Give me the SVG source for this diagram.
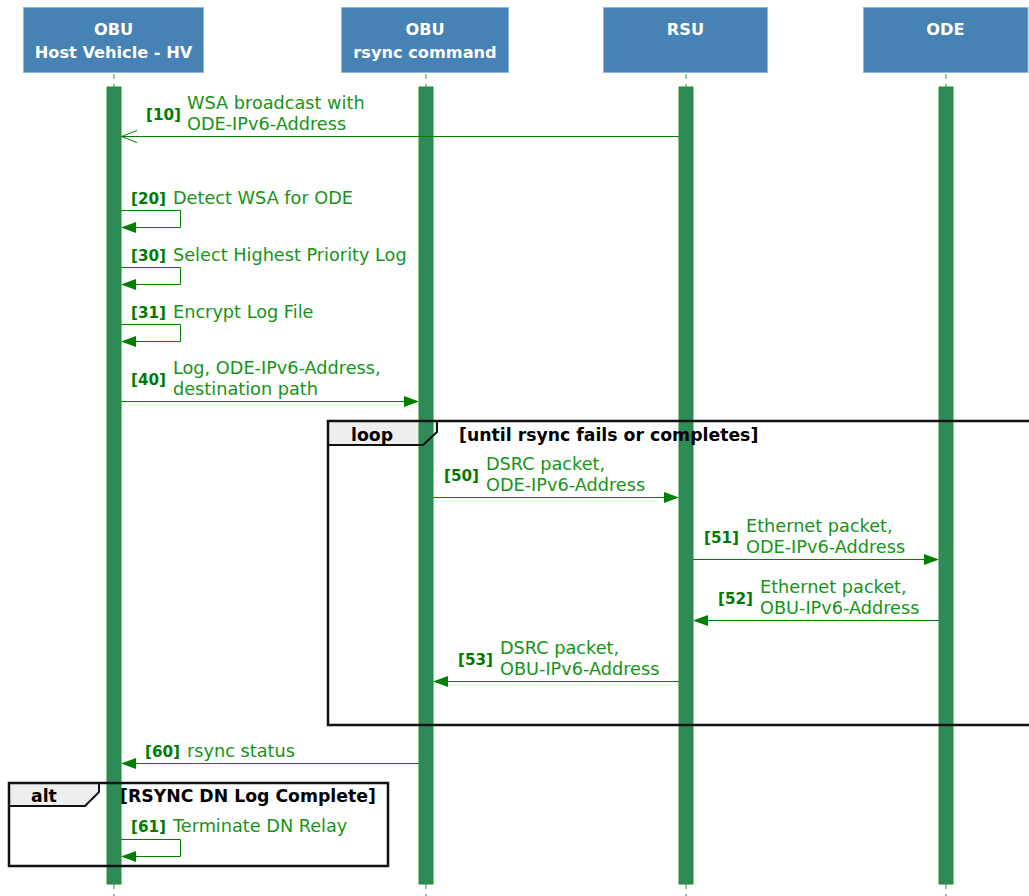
<svg xmlns="http://www.w3.org/2000/svg" width="1029" height="896" viewBox="0 0 1029 896">
  <style>
    .head { fill: #4682B4; stroke: #8ab8e6; stroke-width: 1; }
    .head-text { font-family: "DejaVu Sans", sans-serif; font-weight: bold; font-size: 16.2px; fill: #ffffff; text-anchor: middle; }
    .life { stroke: #2e8b57; stroke-width: 1; stroke-dasharray: 5 5; }
    .bar { fill: #2e8b57; stroke: #1f8f2f; stroke-width: 1; }
    .msg { stroke: #008000; stroke-width: 1; fill: none; }
    .head-fill { fill: #008000; stroke: none; }
    .open-head { stroke: #008000; stroke-width: 1; fill: none; }
    .txt { font-family: "DejaVu Sans", sans-serif; font-size: 17.7px; fill: #169416; }
    .num { font-family: "DejaVu Sans", sans-serif; font-weight: bold; font-size: 15.2px; fill: #007a00; }
    .frame { fill: none; stroke: #111; stroke-width: 2.5; }
    .tab { fill: #eeeeee; }
    .tab-line { fill: none; stroke: #111; stroke-width: 2; }
    .frame-text { font-family: "DejaVu Sans", sans-serif; font-weight: bold; font-size: 17.3px; fill: #000; }
  </style>

  <!-- fragment tab backgrounds -->
  <g id="frame-tabs">
    <path class="tab" d="M328,421 H437 V432 L423,445 H328 Z"/>
    <path class="tab" d="M9,783 H99 V792 L85,806 H9 Z"/>
  </g>

  <!-- participants -->
  <g id="hv">
    <rect class="head" x="23.5" y="7.5" width="180" height="65"/>
    <text class="head-text" x="113.5" y="35">OBU</text>
    <text class="head-text" x="113.5" y="58">Host Vehicle - HV</text>
    <line class="life" x1="114" y1="74" x2="114" y2="896"/>
    <rect class="bar" x="107" y="87" width="14" height="797"/>
  </g>
  <g id="rsync">
    <rect class="head" x="341.5" y="7.5" width="167" height="65"/>
    <text class="head-text" x="425" y="35">OBU</text>
    <text class="head-text" x="425" y="58">rsync command</text>
    <line class="life" x1="426" y1="74" x2="426" y2="896"/>
    <rect class="bar" x="419" y="87" width="14" height="797"/>
  </g>
  <g id="rsu">
    <rect class="head" x="603.5" y="7.5" width="164" height="65"/>
    <text class="head-text" x="685.5" y="35">RSU</text>
    <line class="life" x1="686" y1="74" x2="686" y2="896"/>
    <rect class="bar" x="679" y="87" width="14" height="797"/>
  </g>
  <g id="ode">
    <rect class="head" x="863.5" y="7.5" width="164.5" height="65"/>
    <text class="head-text" x="945.5" y="35">ODE</text>
    <line class="life" x1="946" y1="74" x2="946" y2="896"/>
    <rect class="bar" x="939" y="87" width="14" height="797"/>
  </g>

  <!-- fragments -->
  <g id="loop-frame">
    <rect class="frame" x="328" y="421" width="720" height="304"/>
    <path class="tab-line" d="M437,421 V432 L423,445 H328"/>
    <text class="frame-text" x="351" y="441">loop</text>
    <text class="frame-text" x="459" y="441">[until rsync fails or completes]</text>
  </g>
  <g id="alt-frame">
    <rect class="frame" x="9" y="783" width="379" height="83"/>
    <path class="tab-line" d="M99,783 V792 L85,806 H9"/>
    <text class="frame-text" x="31" y="802">alt</text>
    <text class="frame-text" x="120" y="802">[RSYNC DN Log Complete]</text>
  </g>

  <!-- messages -->
  <g id="connectors">
    <!-- 10 -->
    <line class="msg" x1="679" y1="136.5" x2="121" y2="136.5"/>
    <path class="open-head" d="M137,130.5 L121.5,136.5 L137,142.5"/>
    <!-- 20 -->
    <path class="msg" d="M121,210.5 H180.5 V227.5 H122"/>
    <path class="head-fill" d="M121,227.5 L136,222 L136,233 Z"/>
    <!-- 30 -->
    <path class="msg" d="M121,267.5 H180.5 V284.5 H122"/>
    <path class="head-fill" d="M121,284.5 L136,279 L136,290 Z"/>
    <!-- 31 -->
    <path class="msg" d="M121,324.5 H180.5 V341.5 H122"/>
    <path class="head-fill" d="M121,341.5 L136,336 L136,347 Z"/>
    <!-- 40 -->
    <line class="msg" x1="121" y1="401.5" x2="405" y2="401.5"/>
    <path class="head-fill" d="M419,401.5 L404,396 L404,407 Z"/>
    <!-- 50 -->
    <line class="msg" x1="433" y1="497.5" x2="665" y2="497.5"/>
    <path class="head-fill" d="M679,497.5 L664,492 L664,503 Z"/>
    <!-- 51 -->
    <line class="msg" x1="693" y1="559.5" x2="925" y2="559.5"/>
    <path class="head-fill" d="M939,559.5 L924,554 L924,565 Z"/>
    <!-- 52 -->
    <line class="msg" x1="939" y1="620.5" x2="707" y2="620.5"/>
    <path class="head-fill" d="M693,620.5 L708,615 L708,626 Z"/>
    <!-- 53 -->
    <line class="msg" x1="679" y1="681.5" x2="447" y2="681.5"/>
    <path class="head-fill" d="M433,681.5 L448,676 L448,687 Z"/>
    <!-- 60 -->
    <line class="msg" x1="419" y1="763.5" x2="135" y2="763.5"/>
    <path class="head-fill" d="M121,763.5 L136,758 L136,769 Z"/>
    <!-- 61 -->
    <path class="msg" d="M121,839.5 H180.5 V856.5 H122"/>
    <path class="head-fill" d="M121,856.5 L136,851 L136,862 Z"/>
  </g>

  <!-- message labels -->
  <g id="labels">
    <text class="num" x="146" y="120">[10]</text>
    <text class="txt" x="187" y="109">WSA broadcast with</text>
    <text class="txt" x="187" y="130">ODE-IPv6-Address</text>

    <text class="num" x="131" y="204">[20]</text>
    <text class="txt" x="173" y="204">Detect WSA for ODE</text>

    <text class="num" x="131" y="261">[30]</text>
    <text class="txt" x="173" y="261">Select Highest Priority Log</text>

    <text class="num" x="131" y="318">[31]</text>
    <text class="txt" x="173" y="318">Encrypt Log File</text>

    <text class="num" x="131" y="385">[40]</text>
    <text class="txt" x="173" y="374">Log, ODE-IPv6-Address,</text>
    <text class="txt" x="173" y="395">destination path</text>

    <text class="num" x="444" y="481">[50]</text>
    <text class="txt" x="486" y="470">DSRC packet,</text>
    <text class="txt" x="486" y="491">ODE-IPv6-Address</text>

    <text class="num" x="704" y="543">[51]</text>
    <text class="txt" x="746" y="532">Ethernet packet,</text>
    <text class="txt" x="746" y="553">ODE-IPv6-Address</text>

    <text class="num" x="718" y="604">[52]</text>
    <text class="txt" x="760" y="593">Ethernet packet,</text>
    <text class="txt" x="760" y="614">OBU-IPv6-Address</text>

    <text class="num" x="458" y="665">[53]</text>
    <text class="txt" x="500" y="654">DSRC packet,</text>
    <text class="txt" x="500" y="675">OBU-IPv6-Address</text>

    <text class="num" x="145" y="757">[60]</text>
    <text class="txt" x="187" y="757">rsync status</text>

    <text class="num" x="131" y="832">[61]</text>
    <text class="txt" x="173" y="832">Terminate DN Relay</text>
  </g>
</svg>
